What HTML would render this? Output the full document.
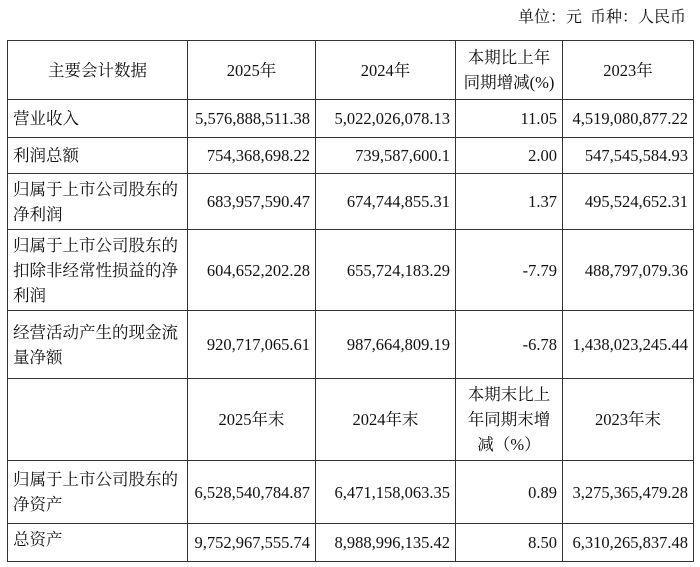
<!DOCTYPE html>
<html><head><meta charset="utf-8"><style>
html,body{margin:0;padding:0;background:#fff;width:700px;height:567px;overflow:hidden}
body{font-family:"Liberation Serif","Noto Serif CJK SC",serif;font-size:16.5px;color:#111;position:relative}
.unit{position:absolute;right:14px;top:4px;font-size:16px}
table{position:absolute;left:7px;top:40px;border-collapse:collapse;table-layout:fixed}
td{border:1.3px solid #333;padding:0 5px;line-height:25px;vertical-align:middle;white-space:nowrap}
td.l{text-align:left}
td.r{text-align:right}
td.c{text-align:center}
</style></head><body>
<div class="unit">单位：元&nbsp;&nbsp;币种：人民币</div>
<table>
<colgroup><col style="width:180px"><col style="width:128px"><col style="width:140px"><col style="width:107px"><col style="width:131px"></colgroup>
<tr style="height:59px"><td class="c">主要会计数据</td><td class="c">2025年</td><td class="c">2024年</td><td class="c">本期比上年<br>同期增减(%)</td><td class="c">2023年</td></tr>
<tr style="height:38px"><td class="l">营业收入</td><td class="r">5,576,888,511.38</td><td class="r">5,022,026,078.13</td><td class="r">11.05</td><td class="r">4,519,080,877.22</td></tr>
<tr style="height:36px"><td class="l">利润总额</td><td class="r">754,368,698.22</td><td class="r">739,587,600.1</td><td class="r">2.00</td><td class="r">547,545,584.93</td></tr>
<tr style="height:56px"><td class="l">归属于上市公司股东的<br>净利润</td><td class="r">683,957,590.47</td><td class="r">674,744,855.31</td><td class="r">1.37</td><td class="r">495,524,652.31</td></tr>
<tr style="height:81px"><td class="l">归属于上市公司股东的<br>扣除非经常性损益的净<br>利润</td><td class="r">604,652,202.28</td><td class="r">655,724,183.29</td><td class="r">-7.79</td><td class="r">488,797,079.36</td></tr>
<tr style="height:68px"><td class="l">经营活动产生的现金流<br>量净额</td><td class="r">920,717,065.61</td><td class="r">987,664,809.19</td><td class="r">-6.78</td><td class="r">1,438,023,245.44</td></tr>
<tr style="height:82px"><td></td><td class="c">2025年末</td><td class="c">2024年末</td><td class="c">本期末比上<br>年同期末增<br>减（%）</td><td class="c">2023年末</td></tr>
<tr style="height:63px"><td class="l">归属于上市公司股东的<br>净资产</td><td class="r">6,528,540,784.87</td><td class="r">6,471,158,063.35</td><td class="r">0.89</td><td class="r">3,275,365,479.28</td></tr>
<tr style="height:38px"><td class="l" style="vertical-align:top;padding-top:3px">总资产</td><td class="r">9,752,967,555.74</td><td class="r">8,988,996,135.42</td><td class="r">8.50</td><td class="r">6,310,265,837.48</td></tr>
</table>
</body></html>
